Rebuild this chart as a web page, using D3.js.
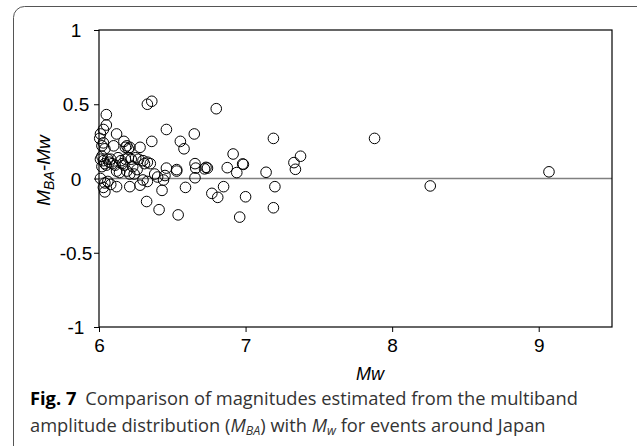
<!DOCTYPE html>
<html>
<head>
<meta charset="utf-8">
<script src="https://cdn.jsdelivr.net/npm/d3@7"></script>
<style>
  body { margin: 0; background: #fff; }
  svg { display: block; }
  .tick-lab { font-family: "Liberation Sans", Arial, sans-serif; font-size: 19px; fill: #000; }
  .cap { font-family: "Open Sans", "Noto Sans", sans-serif; font-size: 18.3px; fill: #333; }
</style>
</head>
<body>
<svg id="chart" width="637" height="446"></svg>
<script>
// Mw des eventos
const mw = [
  6.05, 6.05, 6.03, 6.01, 6.005, 6.03, 6.02, 6.04,
  6.01, 6.03, 6.02, 6.04, 6.06, 6.05, 6.02,
  6.01, 6.04, 6.06, 6.04, 6.03, 6.08, 6.07, 6.09, 6.08,
  6.12, 6.10, 6.17, 6.18, 6.20, 6.19, 6.21, 6.13, 6.15, 6.11, 6.16, 6.12, 6.14,
  6.18, 6.20, 6.22, 6.19, 6.21, 6.12, 6.21, 6.17, 6.23,
  6.28, 6.25, 6.27, 6.30, 6.33, 6.35, 6.31, 6.26, 6.24, 6.28, 6.33, 6.30,
  6.36, 6.33, 6.36, 6.325, 6.38, 6.40,
  6.41, 6.43, 6.44, 6.46, 6.46, 6.45, 6.53, 6.53, 6.54, 6.555, 6.58, 6.59,
  6.65, 6.655, 6.66, 6.655, 6.73, 6.74, 6.72,
  6.77, 6.81, 6.80, 6.85, 6.875, 6.915, 6.94, 6.96, 6.98, 6.985, 7.0,
  7.14, 7.19, 7.20, 7.19, 7.33, 7.34, 7.375,
  7.88, 8.26, 9.07
];
// MBA - Mw
const diff = [
  0.43, 0.36, 0.33, 0.30, 0.27, 0.24, 0.22, 0.20,
  0.13, 0.12, 0.15, 0.10, 0.13, 0.09, 0.08,
  0.0, -0.03, -0.02, -0.09, -0.06, -0.04, 0.11, 0.10, 0.13,
  0.30, 0.22, 0.25, 0.21, 0.20, 0.22, 0.21, 0.14, 0.12, 0.09, 0.10, 0.05, 0.04,
  0.13, 0.14, 0.13, 0.05, 0.03, -0.055, -0.055, 0.09, 0.08,
  0.21, 0.14, 0.13, 0.12, 0.11, 0.10, 0.10, 0.06, 0.03, -0.045, -0.02, -0.01,
  0.25, 0.50, 0.52, -0.155, 0.03, 0.01,
  -0.21, -0.08, -0.01, 0.33, 0.07, 0.02, 0.05, 0.06, -0.245, 0.25, 0.20, -0.06,
  0.30, 0.10, 0.07, 0.005, 0.075, 0.07, 0.065,
  -0.10, -0.127, 0.47, -0.055, 0.073, 0.165, 0.04, -0.26, 0.098, 0.095, -0.123,
  0.042, 0.27, -0.055, -0.197, 0.107, 0.062, 0.15,
  0.27, -0.05, 0.045
];
const xTicks = [6, 7, 8, 9];
const yTicks = [1, 0.5, 0, -0.5, -1];
const yTickLabels = ["1", "0.5", "0", "-0.5", "-1"];

const svg = d3.select("#chart");
const L = 99, R = 612, T = 30, B = 327;

// Marco redondeado de la figura
svg.append("rect")
  .attr("x", 13.5).attr("y", 6.5)
  .attr("width", 640).attr("height", 460)
  .attr("rx", 11)
  .attr("fill", "none").attr("stroke", "#555").attr("stroke-width", 1);

const x = d3.scaleLinear().domain([6, 9.5]).range([L, R]);
const y = d3.scaleLinear().domain([-1, 1]).range([B, T]);

// Línea de cero
svg.append("line")
  .attr("x1", L).attr("x2", R)
  .attr("y1", y(0)).attr("y2", y(0))
  .attr("stroke", "#808080").attr("stroke-width", 1.5);

// Puntos
const pts = mw.map((m, i) => ({ m: m, d: diff[i] }));
svg.append("g").selectAll("circle")
  .data(pts)
  .enter().append("circle")
  .attr("cx", d => x(d.m))
  .attr("cy", d => y(d.d))
  .attr("r", 5.3)
  .attr("fill", "none")
  .attr("stroke", "#000")
  .attr("stroke-width", 1);

// Ejes
const xAxis = svg.append("g").attr("transform", `translate(0,${B})`)
  .call(d3.axisBottom(x).tickValues(xTicks).tickSize(5).tickFormat(d => String(d)));
xAxis.select(".domain").remove();
xAxis.attr("font-size", null).attr("font-family", null);
xAxis.selectAll("line").attr("stroke", "#000");
xAxis.selectAll("text").attr("class", "tick-lab").attr("y", 8).attr("dy", "0.9em");

const yAxis = svg.append("g").attr("transform", `translate(${L},0)`)
  .call(d3.axisLeft(y).tickValues(yTicks).tickSize(5).tickFormat((d, i) => yTickLabels[i]));
yAxis.select(".domain").remove();
yAxis.attr("font-size", null).attr("font-family", null);
yAxis.selectAll("line").attr("stroke", "#000");
yAxis.selectAll("text").attr("class", "tick-lab").attr("x", -23).attr("text-anchor", "middle")
  .attr("dy", "0.35em");

// Caja del gráfico
svg.append("rect")
  .attr("x", L).attr("y", T).attr("width", R - L).attr("height", B - T)
  .attr("fill", "none").attr("stroke", "#000").attr("stroke-width", 1.2);

// Títulos de ejes
svg.append("text")
  .attr("x", 370).attr("y", 380)
  .attr("text-anchor", "middle")
  .style("font-family", "Liberation Sans, Arial, sans-serif")
  .style("font-size", "18px").style("font-style", "italic")
  .text("Mw");

const yl = svg.append("text")
  .attr("transform", `translate(50,${(T + B) / 2 - 8}) rotate(-90)`)
  .attr("text-anchor", "middle")
  .style("font-family", "Liberation Sans, Arial, sans-serif")
  .style("font-size", "19px").style("font-style", "italic");
yl.append("tspan").text("M");
yl.append("tspan").attr("dy", 4).style("font-size", "14px").text("BA");
yl.append("tspan").attr("dy", -4).text("-Mw");

// Pie de figura
const c1 = svg.append("text").attr("class", "cap").attr("x", 30).attr("y", 405);
c1.append("tspan").style("font-weight", "bold").style("fill", "#000").text("Fig. 7");
c1.append("tspan").attr("dx", 9).text("Comparison of magnitudes estimated from the multiband");

const c2 = svg.append("text").attr("class", "cap").attr("x", 30).attr("y", 432);
c2.append("tspan").text("amplitude distribution (");
c2.append("tspan").style("font-style", "italic").text("M");
c2.append("tspan").style("font-style", "italic").style("font-size", "12.5px").attr("dy", 3).text("BA");
c2.append("tspan").attr("dy", -3).text(") with ");
c2.append("tspan").style("font-style", "italic").text("M");
c2.append("tspan").style("font-style", "italic").style("font-size", "12.5px").attr("dy", 3).text("w");
c2.append("tspan").attr("dy", -3).text(" for events around Japan");
</script>
</body>
</html>
